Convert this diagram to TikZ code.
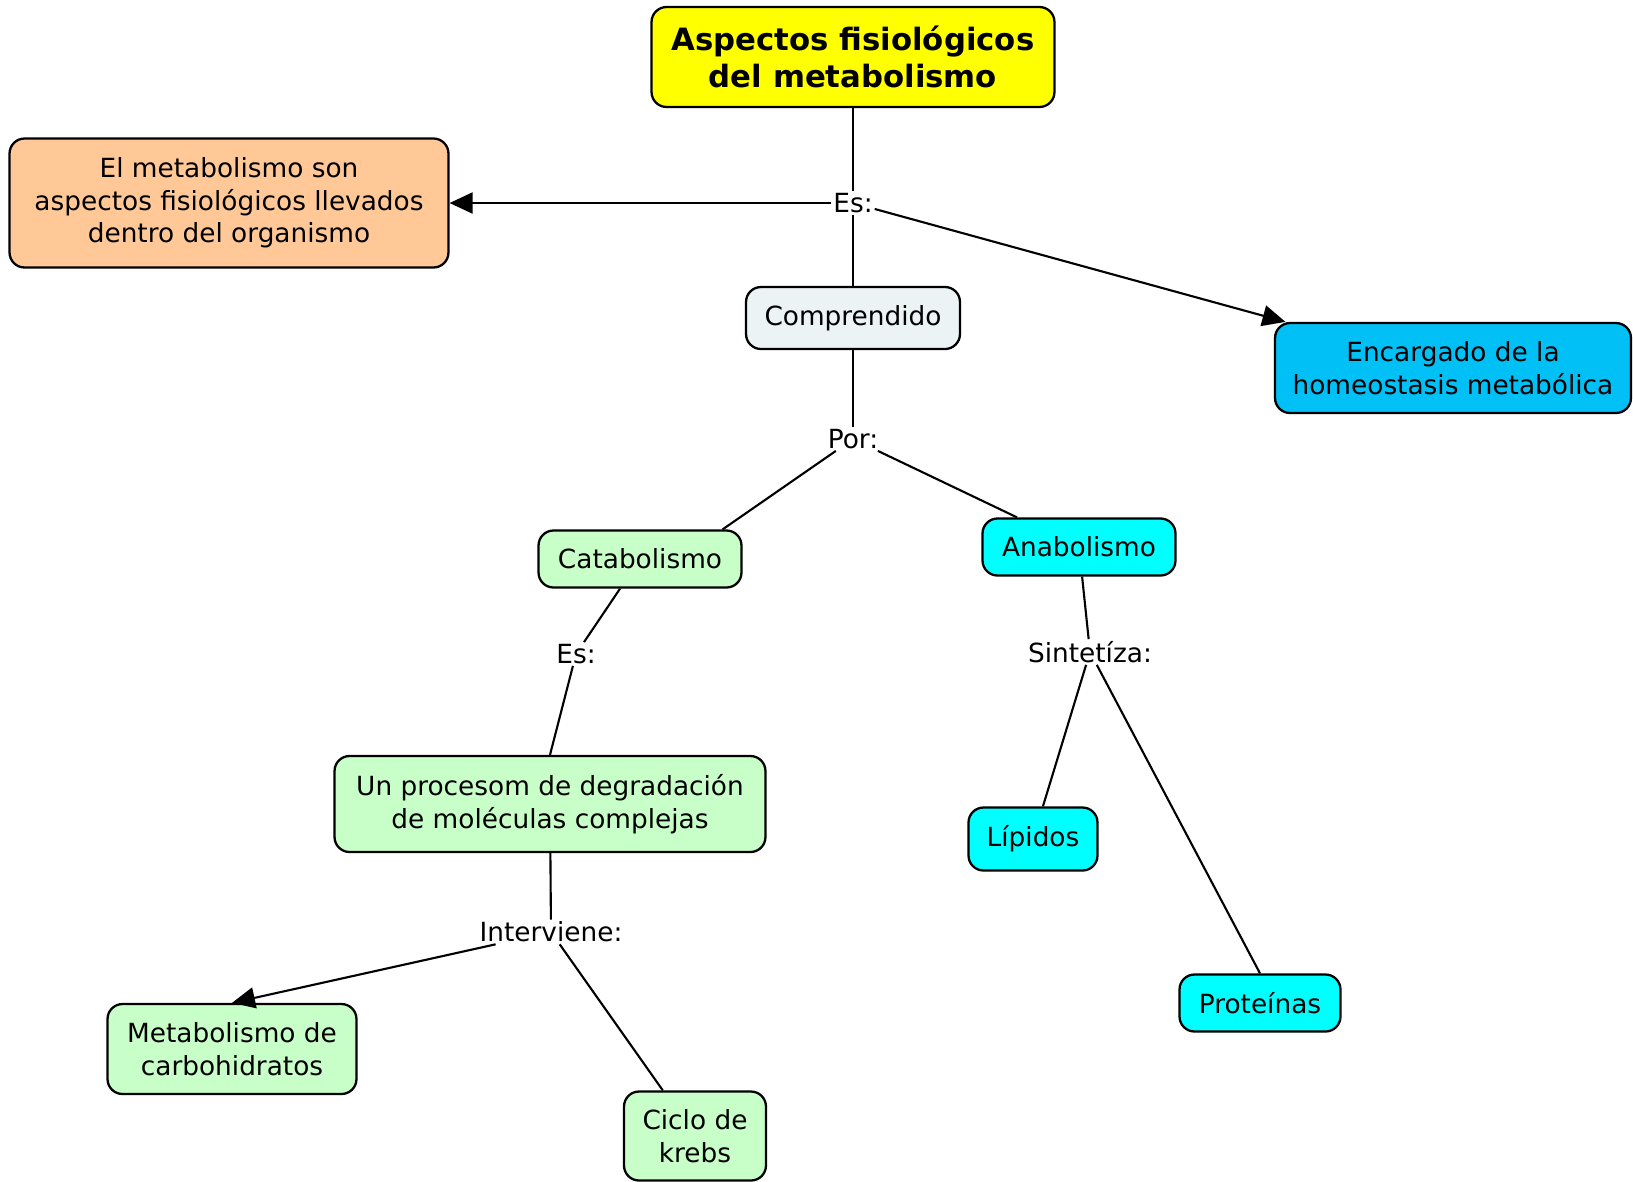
\documentclass[tikz,border=0pt]{standalone}
\usepackage{fontspec}
\setmainfont{DejaVu Sans}
\usetikzlibrary{positioning,arrows.meta}
\definecolor{amarillo}{HTML}{FFFF00}
\definecolor{naranja}{HTML}{FFC896}
\definecolor{gris}{HTML}{EBF3F5}
\definecolor{celeste}{HTML}{00C0F6}
\definecolor{cian}{HTML}{00FFFF}
\definecolor{verde}{HTML}{C8FFC8}
\tikzset{
  concepto/.style={draw, rounded corners=0.3cm, line width=1.3pt, align=center, inner sep=0pt, font=\fontsize{15}{18.5}\selectfont},
  enlace/.style={inner sep=1pt, font=\fontsize{15}{18.5}\selectfont},
  linea/.style={line width=1.2pt},
  flecha/.style={linea, -{Triangle[length=0.46cm,width=0.42cm]}}
}

\begin{document}
\begin{tikzpicture}[x=0.02cm, y=-0.02cm]
  \useasboundingbox (0,0) rectangle (1633,1181);

  % Define nodes
  \node[concepto, fill=amarillo, minimum width=8.06cm, minimum height=2cm, font=\bfseries\fontsize{17.5}{21}\selectfont] (T) at (853,57) {Aspectos fisiológicos\\del metabolismo};
  \node[enlace] (E1) at (853,203) {Es:};
  \node[concepto, fill=naranja, minimum width=8.78cm, minimum height=2.58cm] (D) at (229,203) {El metabolismo son\\aspectos fisiológicos llevados\\dentro del organismo};
  \node[concepto, fill=gris, minimum width=4.28cm, minimum height=1.24cm] (C) at (853,318) {Comprendido};
  \node[concepto, fill=celeste, minimum width=7.12cm, minimum height=1.8cm] (H) at (1453,368) {Encargado de la\\homeostasis metabólica};
  \node[enlace] (P) at (853,439) {Por:};
  \node[concepto, fill=verde, minimum width=4.06cm, minimum height=1.14cm] (K) at (640,559) {Catabolismo};
  \node[concepto, fill=cian, minimum width=3.86cm, minimum height=1.14cm] (A) at (1079,547) {Anabolismo};
  \node[enlace] (E2) at (576,654) {Es:};
  \node[enlace] (S) at (1090,652) {Sintetíza:};
  \node[concepto, fill=verde, minimum width=8.62cm, minimum height=1.92cm] (U) at (550,804) {Un procesom de degradación\\de moléculas complejas};
  \node[concepto, fill=cian, minimum width=2.58cm, minimum height=1.26cm] (L) at (1033,839) {Lípidos};
  \node[enlace] (I) at (551,932) {Interviene:};
  \node[concepto, fill=cian, minimum width=3.22cm, minimum height=1.14cm] (R) at (1260,1003) {Proteínas};
  \node[concepto, fill=verde, minimum width=4.98cm, minimum height=1.8cm] (M) at (232,1049) {Metabolismo de\\carbohidratos};
  \node[concepto, fill=verde, minimum width=2.84cm, minimum height=1.78cm] (KR) at (695,1136) {Ciclo de\\krebs};

  % Connect the nodes
  \draw[linea] (T) -- (E1);
  \draw[flecha] (E1) -- (D);
  \draw[flecha] (E1) -- (H);
  \draw[linea] (E1) -- (C);
  \draw[linea] (C) -- (P);
  \draw[linea] (P) -- ([xshift=-0.4cm]K.north east);
  \draw[linea] (P) -- (A);
  \draw[linea] (K) -- (E2);
  \draw[linea] (E2) -- (U.north);
  \draw[linea] (A) -- (S);
  \draw[linea] (S) -- (L);
  \draw[linea] (S) -- (R.north);
  \draw[linea] (U) -- (I);
  \draw[flecha] (I) -- (M.north);
  \draw[linea] (I) -- (KR);

\end{tikzpicture}
\end{document}
